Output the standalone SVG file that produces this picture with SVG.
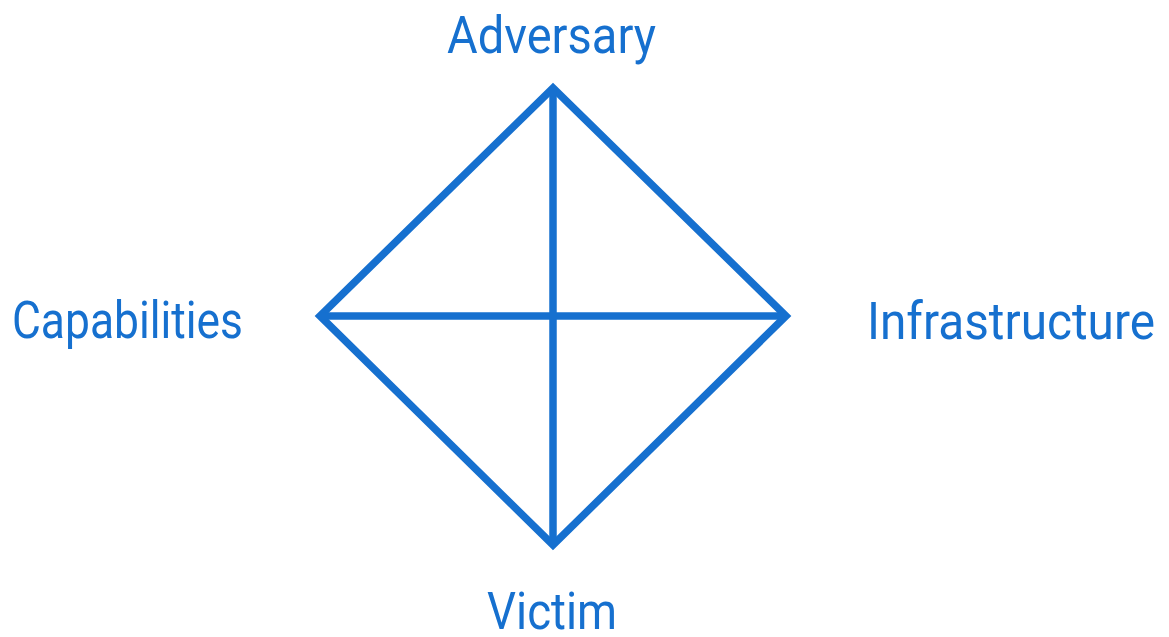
<svg xmlns="http://www.w3.org/2000/svg" width="1169" height="637" viewBox="0 0 1169 637">
<style>
.lbl{font-family:Roboto,"DejaVu Sans",sans-serif;font-size:52px;fill:#1670cf;}
.ln{stroke:#1670cf;stroke-width:7.5;fill:none;stroke-linejoin:miter;stroke-linecap:butt;}
</style>
<rect width="1169" height="637" fill="#ffffff"/>
<g id="connectors">
<polygon class="ln" points="553,88 786,316 553,545 320,316"/>
<line class="ln" x1="320" y1="316" x2="786" y2="316"/>
<line class="ln" x1="553" y1="88" x2="553" y2="545"/>
</g>
<g id="adversary"><text class="lbl" x="447" y="53" textLength="209" lengthAdjust="spacingAndGlyphs">Adversary</text></g>
<g id="capabilities"><text class="lbl" x="12" y="338" textLength="231" lengthAdjust="spacingAndGlyphs">Capabilities</text></g>
<g id="infrastructure"><text class="lbl" x="867" y="339" textLength="288" lengthAdjust="spacingAndGlyphs">Infrastructure</text></g>
<g id="victim"><text class="lbl" x="487" y="629" textLength="130" lengthAdjust="spacingAndGlyphs">Victim</text></g>
</svg>
